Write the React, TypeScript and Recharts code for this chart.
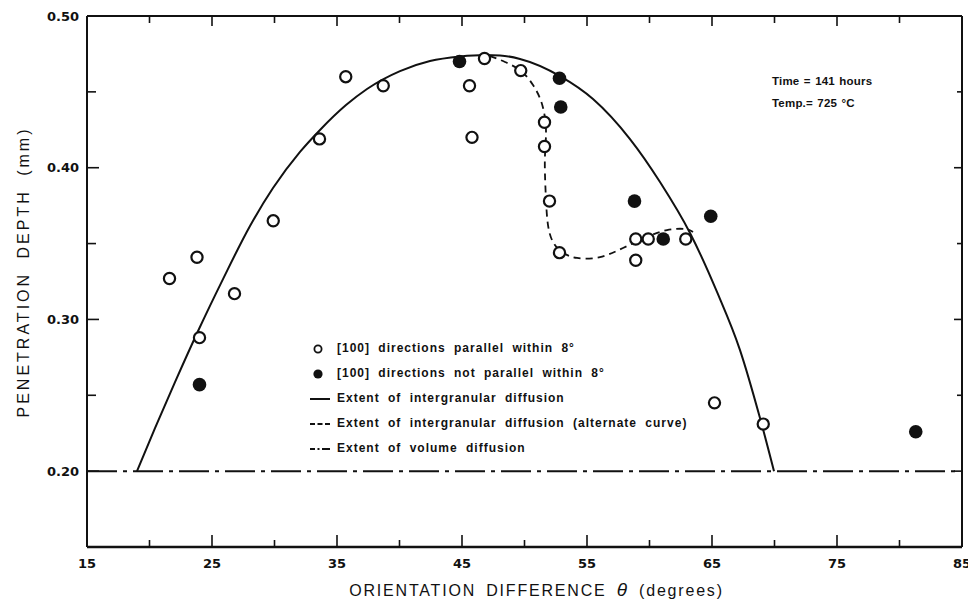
import React from "react";
import {
  ComposedChart,
  XAxis,
  YAxis,
  Line,
  Scatter,
  ReferenceLine,
  Legend,
} from "recharts";

// ---------- data ----------
const xDomain = [15, 85];
const yDomain = [0.15, 0.5];
const xTickValues = [15, 20, 25, 30, 35, 40, 45, 50, 55, 60, 65, 70, 75, 80, 85];
const xLabelValues = [15, 25, 35, 45, 55, 65, 75, 85];
const yTickValues = [0.15, 0.2, 0.25, 0.3, 0.35, 0.4, 0.45, 0.5];
const yLabelValues = [0.2, 0.3, 0.4, 0.5];

// [100] directions parallel within 8° (open circles)
const parallelPoints = [
  { x: 21.6, y: 0.327 },
  { x: 23.8, y: 0.341 },
  { x: 24.0, y: 0.288 },
  { x: 26.8, y: 0.317 },
  { x: 29.9, y: 0.365 },
  { x: 33.6, y: 0.419 },
  { x: 35.7, y: 0.46 },
  { x: 38.7, y: 0.454 },
  { x: 45.6, y: 0.454 },
  { x: 45.8, y: 0.42 },
  { x: 46.8, y: 0.472 },
  { x: 49.7, y: 0.464 },
  { x: 51.6, y: 0.43 },
  { x: 51.6, y: 0.414 },
  { x: 52.0, y: 0.378 },
  { x: 52.8, y: 0.344 },
  { x: 58.9, y: 0.353 },
  { x: 59.9, y: 0.353 },
  { x: 58.9, y: 0.339 },
  { x: 62.9, y: 0.353 },
  { x: 65.2, y: 0.245 },
  { x: 69.1, y: 0.231 },
];

// [100] directions not parallel within 8° (filled circles)
const notParallelPoints = [
  { x: 24.0, y: 0.257 },
  { x: 44.8, y: 0.47 },
  { x: 52.8, y: 0.459 },
  { x: 52.9, y: 0.44 },
  { x: 58.8, y: 0.378 },
  { x: 61.1, y: 0.353 },
  { x: 64.9, y: 0.368 },
  { x: 81.3, y: 0.226 },
];

// Extent of intergranular diffusion (solid curve)
const intergranularCurve = [
  { x: 19.0, y: 0.2 },
  { x: 20.44, y: 0.2284 },
  { x: 22.04, y: 0.2587 },
  { x: 23.96, y: 0.2937 },
  { x: 25.88, y: 0.3266 },
  { x: 28.04, y: 0.3616 },
  { x: 29.88, y: 0.3866 },
  { x: 32.04, y: 0.4104 },
  { x: 33.64, y: 0.4249 },
  { x: 35.72, y: 0.4413 },
  { x: 37.4, y: 0.4519 },
  { x: 40.04, y: 0.4637 },
  { x: 42.44, y: 0.4703 },
  { x: 44.84, y: 0.4733 },
  { x: 46.84, y: 0.4743 },
  { x: 48.04, y: 0.474 },
  { x: 49.64, y: 0.4717 },
  { x: 52.84, y: 0.4604 },
  { x: 55.48, y: 0.4453 },
  { x: 58.44, y: 0.4189 },
  { x: 60.84, y: 0.3906 },
  { x: 63.24, y: 0.357 },
  { x: 65.4, y: 0.3181 },
  { x: 67.24, y: 0.2798 },
  { x: 68.84, y: 0.235 },
  { x: 69.96, y: 0.2 },
];

// Extent of intergranular diffusion, alternate curve (dashed)
const alternateCurve = [
  { x: 47.24, y: 0.4736 },
  { x: 48.44, y: 0.4697 },
  { x: 49.72, y: 0.4637 },
  { x: 50.68, y: 0.4545 },
  { x: 51.32, y: 0.444 },
  { x: 51.64, y: 0.4328 },
  { x: 51.72, y: 0.4216 },
  { x: 51.64, y: 0.4084 },
  { x: 51.64, y: 0.3952 },
  { x: 51.72, y: 0.3787 },
  { x: 51.88, y: 0.3622 },
  { x: 52.28, y: 0.351 },
  { x: 53.0, y: 0.3444 },
  { x: 54.2, y: 0.3405 },
  { x: 56.04, y: 0.3411 },
  { x: 57.88, y: 0.3471 },
  { x: 59.8, y: 0.3543 },
  { x: 61.4, y: 0.3589 },
  { x: 62.84, y: 0.3596 },
  { x: 63.48, y: 0.3576 },
];

// Extent of volume diffusion
const volumeDiffusionDepth = 0.2;

const annotationLines = ["Time = 141 hours", "Temp.= 725 °C"];

const legendItems = [
  { kind: "open", label: "[100] directions parallel within 8°" },
  { kind: "filled", label: "[100] directions not parallel within 8°" },
  { kind: "solid", label: "Extent of intergranular diffusion" },
  { kind: "dashed", label: "Extent of intergranular diffusion (alternate curve)" },
  { kind: "dashdot", label: "Extent of volume diffusion" },
];

// ---------- layout ----------
const CHART_W = 968;
const CHART_H = 595;
const MARGIN = { top: 8, right: 14, left: 0, bottom: 0 };
const Y_AXIS_W = 79;
const X_AXIS_H = 56;
const PLOT_X = MARGIN.left + Y_AXIS_W;
const PLOT_Y = MARGIN.top;
const PLOT_W = CHART_W - MARGIN.left - MARGIN.right - Y_AXIS_W;
const PLOT_H = CHART_H - MARGIN.top - MARGIN.bottom - X_AXIS_H;

// ---------- styling ----------
const tickFont = "'DejaVu Sans', sans-serif";
const textFont = "'Liberation Sans', Arial, sans-serif";
const INK = "#111";

// ---------- tick renderers (inward ticks on both opposite edges) ----------
const BottomTick = (props: any) => {
  const { x, payload } = props;
  const v = payload.value;
  const major = xLabelValues.includes(v);
  const edge = v === xDomain[0] || v === xDomain[1];
  const yb = PLOT_Y + PLOT_H;
  const yt = PLOT_Y;
  return (
    <g>
      {!edge && (
        <line x1={x} y1={yb} x2={x} y2={yb - (major ? 12 : 7)} stroke={INK} strokeWidth={1.6} />
      )}
      {!edge && (
        <line x1={x} y1={yt} x2={x} y2={yt + (major ? 10 : 7)} stroke={INK} strokeWidth={1.6} />
      )}
      {major && (
        <text
          x={x}
          y={yb + 21}
          textAnchor="middle"
          fontFamily={tickFont}
          fontWeight={700}
          fontSize={13}
          fill={INK}
        >
          {v}
        </text>
      )}
    </g>
  );
};

const LeftTick = (props: any) => {
  const { y, payload } = props;
  const v = payload.value;
  const major = yLabelValues.includes(v);
  const edge = v === yDomain[0] || v === yDomain[1];
  const xl = PLOT_X;
  const xr = PLOT_X + PLOT_W;
  return (
    <g>
      {!edge && (
        <line x1={xl} y1={y} x2={xl + (major ? 12 : 9)} y2={y} stroke={INK} strokeWidth={1.6} />
      )}
      {!edge && (
        <line x1={xr} y1={y} x2={xr - (major ? 8 : 5)} y2={y} stroke={INK} strokeWidth={1.6} />
      )}
      {major && (
        <text
          x={xl - 8}
          y={y}
          textAnchor="end"
          dominantBaseline="central"
          fontFamily={tickFont}
          fontWeight={700}
          fontSize={13}
          fill={INK}
        >
          {v.toFixed(2)}
        </text>
      )}
    </g>
  );
};

// ---------- axis titles ----------
const YTitle = () => {
  const cx = 15;
  const cy = 264;
  return (
    <text
      x={cx}
      y={cy}
      transform={`rotate(-90 ${cx} ${cy})`}
      textAnchor="middle"
      dominantBaseline="central"
      fontFamily={textFont}
      fontSize={16}
      fill={INK}
      style={{ letterSpacing: "3px", wordSpacing: "6px" }}
    >
      PENETRATION DEPTH (mm)
    </text>
  );
};

const XTitle = () => {
  const cx = PLOT_X + PLOT_W / 2 + 12;
  const cy = PLOT_Y + PLOT_H + 49;
  return (
    <text
      x={cx}
      y={cy}
      textAnchor="middle"
      fontFamily={textFont}
      fontSize={16}
      fill={INK}
      style={{ letterSpacing: "1.8px", wordSpacing: "4px" }}
    >
      ORIENTATION DIFFERENCE{" "}
      <tspan fontStyle="italic" fontSize={19}>
        θ
      </tspan>{" "}
      (degrees)
    </text>
  );
};

// ---------- markers ----------
const OpenDot = (p: any) => (
  <circle cx={p.cx} cy={p.cy} r={5.6} fill="#fff" stroke={INK} strokeWidth={2.2} />
);
const FilledDot = (p: any) => <circle cx={p.cx} cy={p.cy} r={6.8} fill={INK} />;

const LegendSymbol = ({ kind }: { kind: string }) => {
  if (kind === "open")
    return <circle cx={10} cy={6} r={3.6} fill="#fff" stroke={INK} strokeWidth={1.8} />;
  if (kind === "filled") return <circle cx={10} cy={6} r={4.6} fill={INK} />;
  const dash = kind === "dashed" ? "5 2.5" : kind === "dashdot" ? "5 2.5 2 2.5 8" : undefined;
  return (
    <line x1={2} y1={6} x2={22} y2={6} stroke={INK} strokeWidth={2} strokeDasharray={dash} />
  );
};

const LegendBox = () => (
  <div
    style={{
      fontFamily: textFont,
      fontWeight: 700,
      fontSize: 12,
      letterSpacing: "1px",
      wordSpacing: "4px",
      color: INK,
    }}
  >
    {legendItems.map((item) => (
      <div key={item.label} style={{ display: "flex", alignItems: "center", height: 25 }}>
        <svg width={24} height={12} style={{ flex: "none" }}>
          <LegendSymbol kind={item.kind} />
        </svg>
        <span style={{ marginLeft: 5, whiteSpace: "nowrap", lineHeight: "25px" }}>
          {item.label}
        </span>
      </div>
    ))}
  </div>
);

export default function App() {
  return (
    <div style={{ position: "relative", width: CHART_W, height: CHART_H, background: "#fff" }}>
      <ComposedChart width={CHART_W} height={CHART_H} margin={MARGIN}>
        <XAxis
          dataKey="x"
          type="number"
          domain={xDomain}
          allowDataOverflow
          ticks={xTickValues}
          interval={0}
          height={X_AXIS_H}
          tickLine={false}
          tickSize={0}
          tickMargin={0}
          tick={BottomTick}
          axisLine={{ stroke: INK, strokeWidth: 2.4 }}
          label={{ content: XTitle }}
        />
        <YAxis
          dataKey="y"
          type="number"
          domain={yDomain}
          allowDataOverflow
          ticks={yTickValues}
          interval={0}
          width={Y_AXIS_W}
          tickLine={false}
          tickSize={0}
          tickMargin={0}
          tick={LeftTick}
          axisLine={{ stroke: INK, strokeWidth: 2 }}
          label={{ content: YTitle }}
        />
        {/* top and right edges of the plot frame */}
        <ReferenceLine y={yDomain[1]} stroke={INK} strokeWidth={2} ifOverflow="visible" />
        <ReferenceLine x={xDomain[1]} stroke={INK} strokeWidth={2} ifOverflow="visible" />
        <ReferenceLine
          y={volumeDiffusionDepth}
          stroke={INK}
          strokeWidth={2}
          strokeDasharray="30 6 4 6"
          ifOverflow="visible"
        />
        <Line
          data={intergranularCurve}
          dataKey="y"
          type="monotone"
          stroke={INK}
          strokeWidth={2}
          dot={false}
          activeDot={false}
          isAnimationActive={false}
        />
        <Line
          data={alternateCurve}
          dataKey="y"
          type="natural"
          stroke={INK}
          strokeWidth={1.8}
          strokeDasharray="7 5"
          dot={false}
          activeDot={false}
          isAnimationActive={false}
        />
        <Scatter data={parallelPoints} dataKey="y" shape={OpenDot} isAnimationActive={false} />
        <Scatter data={notParallelPoints} dataKey="y" shape={FilledDot} isAnimationActive={false} />
        <Legend
          layout="vertical"
          align="center"
          verticalAlign="middle"
          wrapperStyle={{ left: 300, top: 328, width: 440 }}
          content={LegendBox}
        />
      </ComposedChart>
      <div
        style={{
          position: "absolute",
          left: 764,
          top: 62,
          fontFamily: textFont,
          fontWeight: 700,
          fontSize: 11.5,
          lineHeight: "22px",
          color: INK,
          whiteSpace: "nowrap",
          letterSpacing: "0.2px",
          wordSpacing: "1px",
        }}
      >
        {annotationLines.map((t) => (
          <div key={t}>{t}</div>
        ))}
      </div>
    </div>
  );
}
